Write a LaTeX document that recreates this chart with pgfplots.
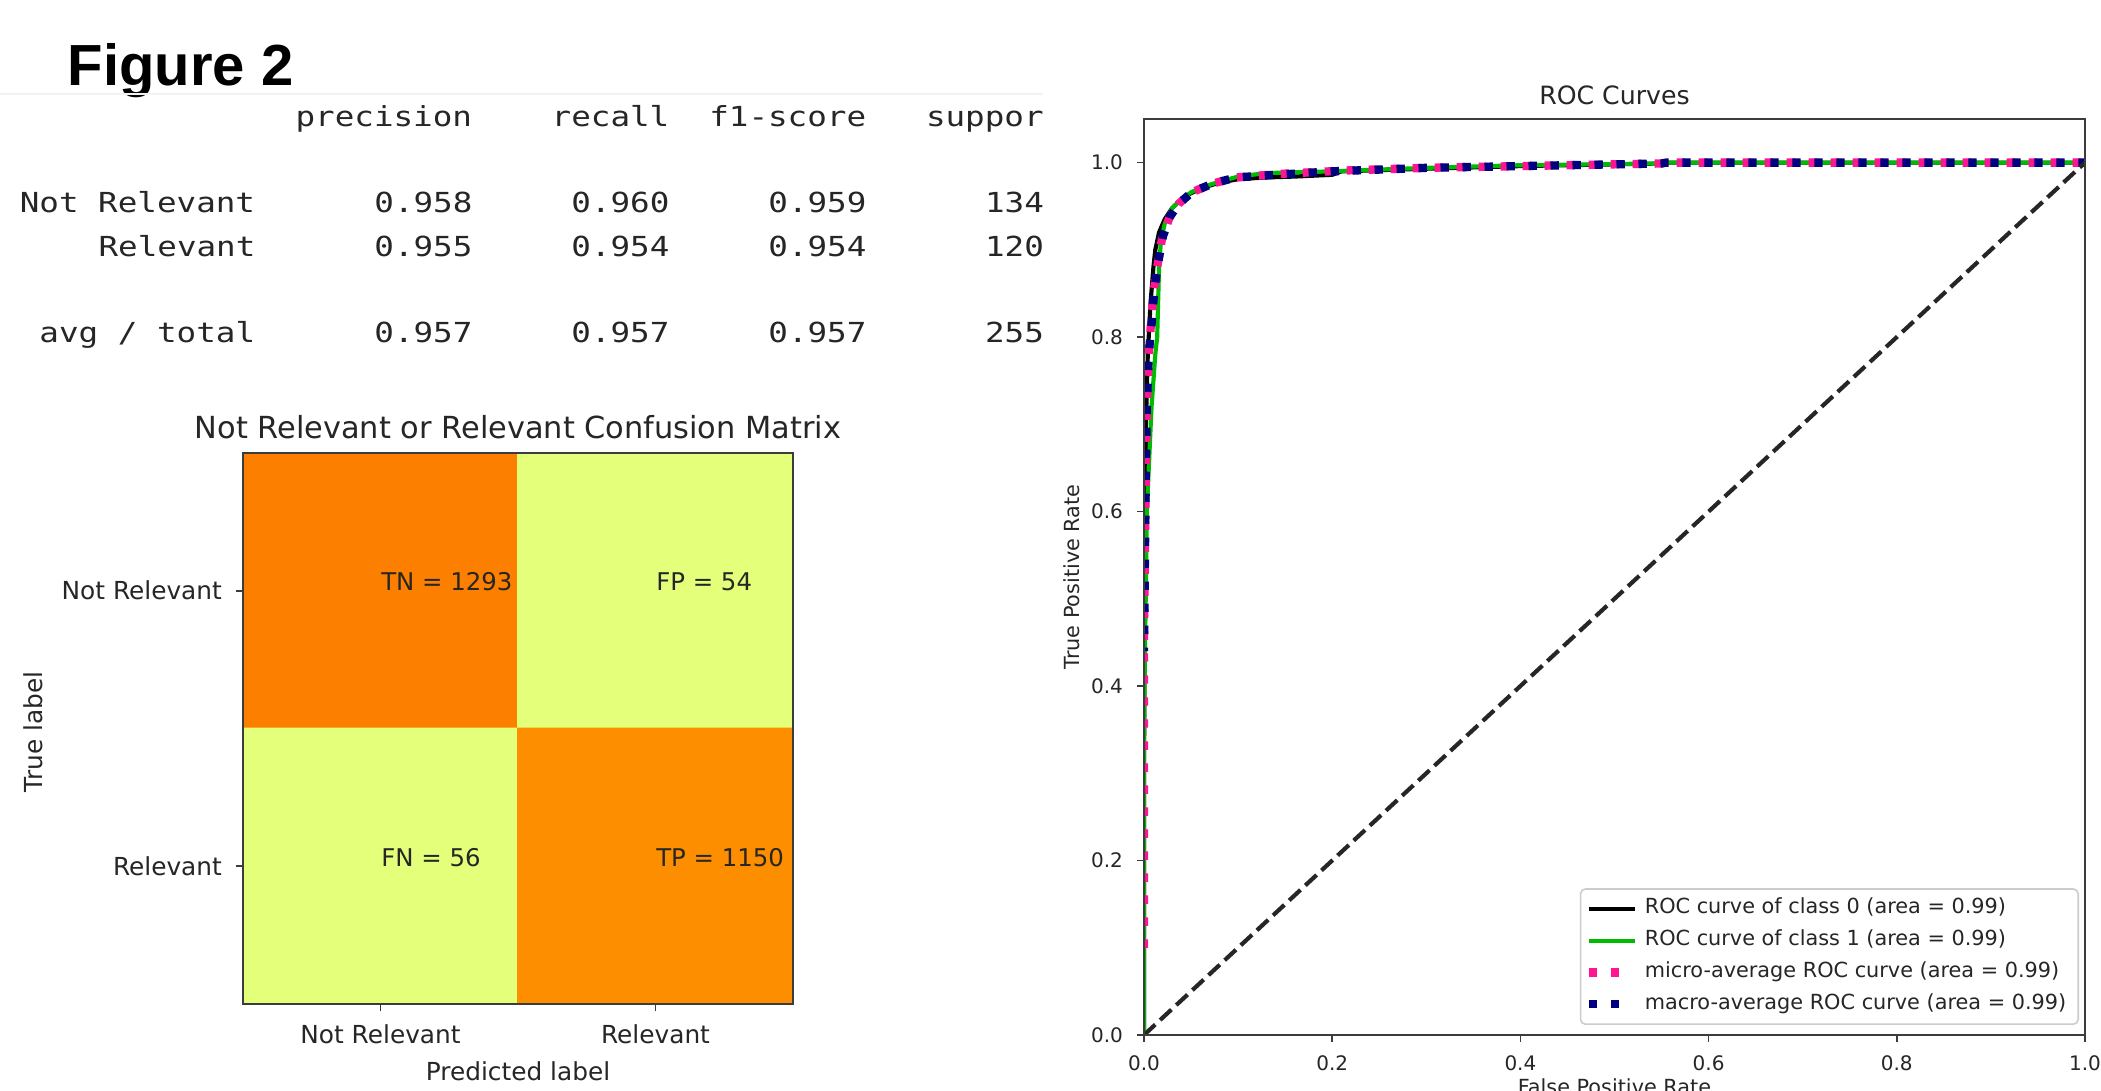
\documentclass[border=0pt]{standalone}
\usepackage{fontspec}
\setmainfont{DejaVu Sans}
\newfontfamily\figfont{Liberation Sans}
\newfontfamily\repfont[FakeStretch=1.18]{DejaVu Sans Mono}
\usepackage{pgfplots}
\pgfplotsset{compat=1.18}

\definecolor{mplgreen}{RGB}{0,187,0}
\definecolor{deeppink}{RGB}{255,20,147}
\definecolor{mplnavy}{RGB}{0,0,128}
\definecolor{txt}{RGB}{38,38,38}
\definecolor{spine}{RGB}{60,60,60}

% short legend sample for the dotted curves
\pgfplotsset{
  dotleg/.style={legend image code/.code={\draw[##1] (0pt,0pt) -- (8.5pt,0pt);}},
  dotlegz/.style={legend image code/.code={\draw[##1, dash phase=0pt] (0pt,0pt) -- (8.5pt,0pt);}},
}

% one token of the classification report, placed by column
\newcommand{\rep}[3]{\node[anchor=base west, inner sep=0pt, text=txt,
  font=\repfont\fontsize{6.9}{8}\selectfont] at ({4.75pt+#1*4.925pt},#2) {#3};}

\begin{document}
\begin{tikzpicture}
\useasboundingbox (0,0) rectangle (525.25pt,272.75pt);
\fill[white] (0,0) rectangle (525.25pt,272.75pt);

\node[anchor=base west, inner sep=0pt, font=\figfont\bfseries\fontsize{14.5}{16}\selectfont]
  at (16.75pt,251.25pt) {Figure 2};
\draw[black!5, line width=0.4pt] (0,249.25pt) -- (260.75pt,249.25pt);

% classification report (cut off on the right as in the screenshot)
\begin{scope}
\clip (0,0) rectangle (260.75pt,272.75pt);
\rep{14}{241pt}{precision}
\rep{27}{241pt}{recall}
\rep{35}{241pt}{f1-score}
\rep{46}{241pt}{support}
\rep{0}{219.5pt}{Not Relevant}
\rep{18}{219.5pt}{0.958}
\rep{28}{219.5pt}{0.960}
\rep{38}{219.5pt}{0.959}
\rep{49}{219.5pt}{1347}
\rep{4}{208.5pt}{Relevant}
\rep{18}{208.5pt}{0.955}
\rep{28}{208.5pt}{0.954}
\rep{38}{208.5pt}{0.954}
\rep{49}{208.5pt}{1206}
\rep{1}{187pt}{avg / total}
\rep{18}{187pt}{0.957}
\rep{28}{187pt}{0.957}
\rep{38}{187pt}{0.957}
\rep{49}{187pt}{2553}
\end{scope}

% confusion matrix
\begin{axis}[
  at={(60.75pt,21.75pt)}, anchor=south west,
  width=137.5pt, height=137.75pt, scale only axis,
  xmin=-0.5, xmax=1.5, ymin=-0.5, ymax=1.5, y dir=reverse,
  enlargelimits=false,
  axis on top,
  colormap={wistia}{rgb255=(228,255,122) rgb255=(255,232,26) rgb255=(255,189,0) rgb255=(255,160,0) rgb255=(252,127,0)},
  point meta min=54, point meta max=1293,
  xtick={0,1}, ytick={0,1},
  xticklabels={Not Relevant, Relevant},
  yticklabels={Not Relevant, Relevant},
  tick align=outside, xtick pos=bottom, ytick pos=left,
  major tick length=1.75pt,
  tick style={spine, line width=0.4pt},
  axis line style={spine, line width=0.5pt},
  tick label style={font=\fontsize{6.2}{7}\selectfont, text=txt},
  title={Not Relevant or Relevant Confusion Matrix},
  title style={at={(axis description cs:0.5,1)}, anchor=base, yshift=-2.25pt,
    font=\fontsize{7.6}{9}\selectfont, text=txt},
  xlabel={Predicted label},
  xlabel style={at={(axis description cs:0.5,-0.138)}, anchor=base,
    font=\fontsize{6.2}{7}\selectfont, text=txt},
  ylabel={True label},
  ylabel style={at={(axis description cs:-0.381,0.494)}, anchor=center,
    font=\fontsize{6.2}{7}\selectfont, text=txt},
]
\addplot[matrix plot*, mesh/cols=2, point meta=explicit] table[meta=C] {
x y C
0 0 1293
1 0 54
0 1 56
1 1 1150
};
\node[anchor=base west, inner sep=0pt, font=\fontsize{6.1}{7}\selectfont, text=txt] at (axis cs:0,0) {TN = 1293};
\node[anchor=base west, inner sep=0pt, font=\fontsize{6.1}{7}\selectfont, text=txt] at (axis cs:1,0) {FP = 54};
\node[anchor=base west, inner sep=0pt, font=\fontsize{6.1}{7}\selectfont, text=txt] at (axis cs:0,1) {FN = 56};
\node[anchor=base west, inner sep=0pt, font=\fontsize{6.1}{7}\selectfont, text=txt] at (axis cs:1,1) {TP = 1150};
\end{axis}

% ROC curves
\begin{axis}[
  at={(286pt,14pt)}, anchor=south west,
  width=235.25pt, height=229pt, scale only axis,
  xmin=0, xmax=1, ymin=0, ymax=1.05,
  axis on top,
  xtick={0,0.2,0.4,0.6,0.8,1},
  ytick={0,0.2,0.4,0.6,0.8,1},
  xticklabels={0.0,0.2,0.4,0.6,0.8,1.0},
  yticklabels={0.0,0.2,0.4,0.6,0.8,1.0},
  tick align=outside, xtick pos=bottom, ytick pos=left,
  major tick length=1.75pt,
  tick style={spine, line width=0.4pt},
  axis line style={spine, line width=0.5pt},
  tick label style={font=\fontsize{5}{6}\selectfont, text=txt},
  title={ROC Curves},
  title style={at={(axis description cs:0.5,1)}, anchor=base, yshift=-2.5pt,
    font=\fontsize{6.3}{7}\selectfont, text=txt},
  xlabel={False Positive Rate},
  xlabel style={at={(axis description cs:0.5,-0.0655)}, anchor=base,
    font=\fontsize{5.2}{6}\selectfont, text=txt},
  ylabel={True Positive Rate},
  ylabel style={at={(axis description cs:-0.0765,0.5)}, anchor=center,
    font=\fontsize{5.2}{6}\selectfont, text=txt},
  legend style={at={(axis description cs:1,0)}, anchor=south east,
    xshift=-1.5pt, yshift=2.5pt,
    draw=black!20, line width=0.4pt, rounded corners=1.2pt,
    fill=white, fill opacity=0.8, text opacity=1,
    font=\fontsize{5.2}{6}\selectfont, text=txt,
    inner xsep=1pt, inner ysep=1pt, row sep=0pt,
    nodes={inner ysep=1.25pt}},
  legend cell align=left,
  legend image code/.code={\draw[#1] (0pt,0pt) -- (11.5pt,0pt);},
]
\addplot[black, line width=1.04pt] coordinates {
(0,0) (0,0.30) (0.001,0.55) (0.002,0.70) (0.004,0.78) (0.007,0.84) (0.010,0.88)
(0.012,0.90) (0.016,0.92) (0.022,0.935) (0.030,0.948) (0.040,0.958) (0.050,0.965)
(0.065,0.972) (0.080,0.977) (0.100,0.981) (0.130,0.983) (0.160,0.984) (0.200,0.986)
(0.210,0.990) (0.300,0.993) (0.400,0.996) (0.550,0.999) (0.555,1.0) (1,1)};
\addlegendentry{ROC curve of class 0 (area = 0.99)}
\addplot[mplgreen, line width=1.04pt] coordinates {
(0,0) (0,0.35) (0.003,0.60) (0.008,0.72) (0.012,0.78) (0.014,0.80) (0.016,0.88)
(0.018,0.91) (0.022,0.93) (0.030,0.948) (0.040,0.958) (0.050,0.966) (0.065,0.973)
(0.080,0.978) (0.100,0.984) (0.130,0.988) (0.200,0.990) (0.300,0.994) (0.400,0.997)
(0.550,0.999) (0.555,1.0) (1,1)};
\addlegendentry{ROC curve of class 1 (area = 0.99)}
\addplot[deeppink, line width=2.08pt, dash pattern=on 2.08pt off 3.42pt, dotleg] coordinates {
(0,0.10) (0,0.45) (0.001,0.55) (0.002,0.65) (0.003,0.72) (0.005,0.78) (0.007,0.81)
(0.010,0.85) (0.014,0.88) (0.019,0.912) (0.027,0.937) (0.037,0.953) (0.051,0.966)
(0.073,0.976) (0.098,0.983) (0.144,0.987) (0.215,0.991) (0.300,0.994) (0.400,0.996)
(0.550,0.999) (0.555,1.0) (1,1)};
\addlegendentry{micro-average ROC curve (area = 0.99)}
\addplot[mplnavy, line width=2.08pt, dash pattern=on 2.08pt off 3.42pt, dash phase=1.2pt, dotlegz] coordinates {
(0,0.44) (0.001,0.55) (0.002,0.65) (0.003,0.72) (0.005,0.78) (0.008,0.815)
(0.011,0.855) (0.015,0.885) (0.020,0.915) (0.027,0.937) (0.037,0.953) (0.051,0.966)
(0.073,0.976) (0.098,0.983) (0.140,0.986) (0.200,0.990) (0.300,0.994) (0.400,0.996)
(0.500,0.998) (0.550,0.999) (0.555,1.0) (1,1)};
\addlegendentry{macro-average ROC curve (area = 0.99)}
\addplot[black!85, line width=1.04pt, dash pattern=on 3.84pt off 1.66pt, forget plot]
  coordinates {(0,0) (1,1)};
\end{axis}
\end{tikzpicture}
\end{document}
